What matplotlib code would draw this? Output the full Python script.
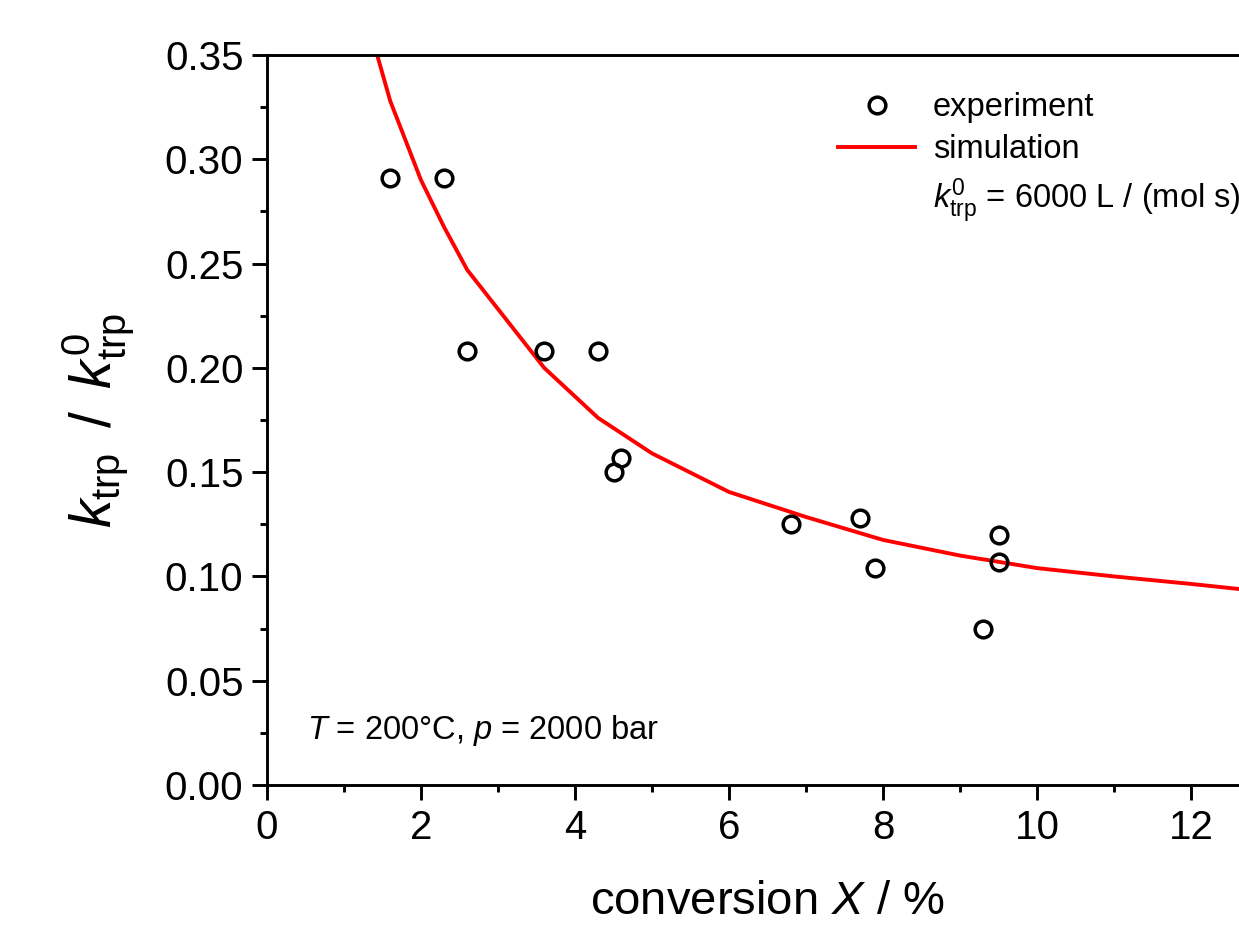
import matplotlib.pyplot as plt
from matplotlib.lines import Line2D
from matplotlib.ticker import MultipleLocator

plt.rcParams['font.family'] = ['Liberation Sans', 'DejaVu Sans']
plt.rcParams['mathtext.fontset'] = 'custom'
plt.rcParams['mathtext.rm'] = 'Liberation Sans'
plt.rcParams['mathtext.it'] = 'Liberation Sans:italic'

# experiment
x_exp = [1.6, 2.3, 2.6, 3.6, 4.3, 4.6, 4.5, 6.8, 7.7, 7.9, 9.3, 9.5, 9.5]
y_exp = [0.291, 0.291, 0.208, 0.208, 0.208, 0.157, 0.150, 0.125, 0.128, 0.104, 0.075, 0.120, 0.107]

# simulation
x_sim = [1.3, 1.6, 2.0, 2.3, 2.6, 3.6, 4.3, 5.0, 6.0, 7.0, 8.0, 9.0, 10.0, 11.0, 12.0, 13.0]
y_sim = [0.367, 0.328, 0.290, 0.2675, 0.247, 0.200, 0.176, 0.159, 0.1405, 0.1285, 0.1175, 0.110,
         0.104, 0.100, 0.0964, 0.0925]

fig = plt.figure(figsize=(12.39, 9.27), dpi=100)
ax = fig.add_axes([267/1239, 1-785/927, 1001/1239, 730/927])

ax.plot(x_sim, y_sim, color='#ff0000', lw=2.8, zorder=2)
ax.plot(x_exp, y_exp, 'o', mfc='none', mec='black', ms=12, mew=2.5, zorder=3)

ax.set_xlim(0, 13)
ax.set_ylim(0, 0.35)
ax.xaxis.set_major_locator(MultipleLocator(2))
ax.xaxis.set_minor_locator(MultipleLocator(1))
ax.yaxis.set_major_locator(MultipleLocator(0.05))
ax.yaxis.set_minor_locator(MultipleLocator(0.025))
ax.yaxis.set_major_formatter(plt.FuncFormatter(lambda v, p: f'{v:.2f}'))

for s in ax.spines.values():
    s.set_linewidth(2.1)
ax.tick_params(which='major', length=11, width=2.1, labelsize=29, direction='out', pad=6)
ax.tick_params(which='minor', length=5, width=2.1, direction='out')
ax.tick_params(axis='x', top=False)

ax.set_xlabel('conversion $X$ / %', fontsize=34, labelpad=24)
ax.set_ylabel(r'$k_{\mathrm{trp}}\,$ / $\,k^{0}_{\mathrm{trp}}$', fontsize=41, labelpad=20)

ax.text(0.52, 0.022, '$T$ = 200°C, $p$ = 2000 bar', fontsize=23.5)

handles = [
    Line2D([], [], ls='none', marker='o', mfc='none', mec='black', ms=12, mew=2.5),
    Line2D([], [], color='#ff0000', lw=2.8),
    Line2D([], [], ls='none'),
]
labels = ['experiment', 'simulation', r'$k^{0}_{\mathrm{trp}}$ = 6000 L / (mol s)']
ax.legend(handles, labels, loc='upper left', bbox_to_anchor=(838/1239, 1-92/927),
          bbox_transform=fig.transFigure, frameon=False, fontsize=23.5,
          handlelength=2.36, handletextpad=0.55, labelspacing=0.35, borderpad=0,
          borderaxespad=0)

fig.savefig('out.png', dpi=100)
